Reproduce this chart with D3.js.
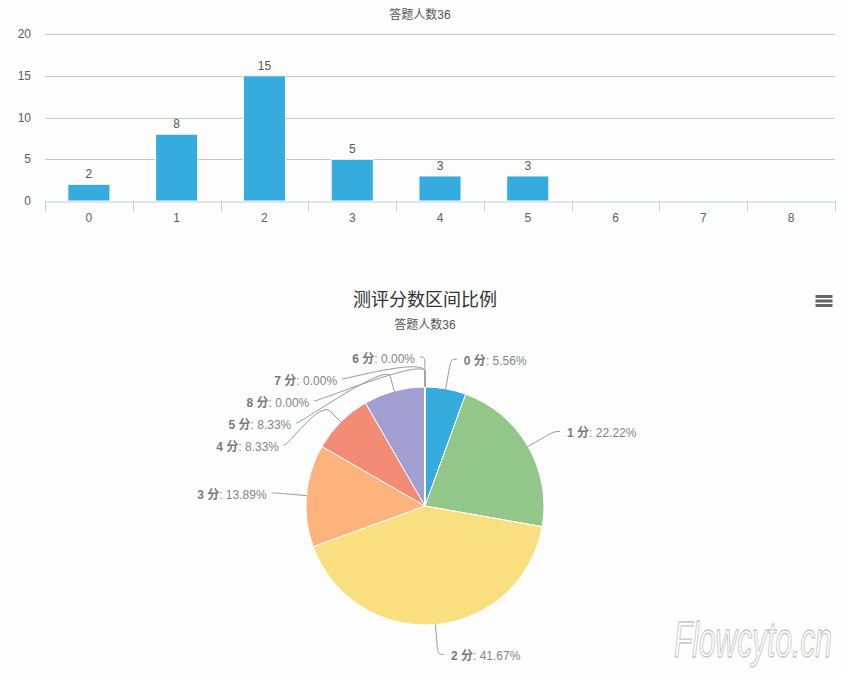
<!DOCTYPE html>
<html>
<head>
<meta charset="utf-8">
<script src="https://cdn.jsdelivr.net/npm/d3@7"></script>
<style>
  html, body { margin: 0; padding: 0; background: #fcfdfc; }
  svg { display: block; }
  text { font-family: "Liberation Sans", Arial, "Noto Sans CJK SC", sans-serif; }
</style>
</head>
<body>
<svg id="chart" width="845" height="674"></svg>
<script>
// ---------------- data ----------------
const barSubtitle = "答题人数36";
const categories = ["0", "1", "2", "3", "4", "5", "6", "7", "8"];
const counts = [2, 8, 15, 5, 3, 3, 0, 0, 0];
const yTicks = [0, 5, 10, 15, 20];

const pieTitle = "测评分数区间比例";
const pieSubtitle = "答题人数36";
const pieNames = ["0 分", "1 分", "2 分", "3 分", "4 分", "5 分", "6 分", "7 分", "8 分"];
const pieValues = [2, 8, 15, 5, 3, 3, 0, 0, 0];
const pieColors = ["#35acdd", "#93c78a", "#fadf80", "#fdb37b", "#f28c75", "#a39ed2", "#a39ed2", "#a39ed2", "#a39ed2"];

// ---------------- setup ----------------
const svg = d3.select("#chart");
svg.append("rect").attr("width", 845).attr("height", 674).attr("fill", "#fcfdfc");

// ---------------- bar chart ----------------
const x = d3.scaleBand().domain(categories).range([45, 835]).padding(0);
const y = d3.scaleLinear().domain([0, 20]).range([201, 34]);
const barFrac = 0.48;

svg.append("text")
  .attr("x", 420).attr("y", 19)
  .attr("text-anchor", "middle")
  .attr("font-size", 12).attr("fill", "#555")
  .text(barSubtitle);

// gridlines
svg.append("g").selectAll("line")
  .data(yTicks.filter(t => t !== 0))
  .join("line")
  .attr("x1", 45).attr("x2", 835)
  .attr("y1", d => Math.round(y(d)) + 0.5).attr("y2", d => Math.round(y(d)) + 0.5)
  .attr("stroke", "#c6c6ca").attr("stroke-width", 1);

// y labels
svg.append("g").selectAll("text")
  .data(yTicks)
  .join("text")
  .attr("x", 31).attr("y", d => y(d))
  .attr("dy", "0.35em")
  .attr("text-anchor", "end")
  .attr("font-size", 12).attr("fill", "#606060")
  .text(d => d);

// bars
svg.append("g").selectAll("rect")
  .data(counts)
  .join("rect")
  .attr("x", (d, i) => x(categories[i]) + x.bandwidth() * (1 - barFrac) / 2)
  .attr("width", x.bandwidth() * barFrac)
  .attr("y", d => y(d))
  .attr("height", d => y(0) - y(d))
  .attr("fill", "#35acdd")
  .attr("stroke", d => d > 0 ? "#ffffff" : "none")
  .attr("stroke-width", 1);

// value labels
svg.append("g").selectAll("text")
  .data(counts)
  .join("text")
  .filter(d => d > 0)
  .attr("x", (d, i) => x(categories[i]) + x.bandwidth() / 2)
  .attr("y", d => y(d) - 6)
  .attr("text-anchor", "middle")
  .attr("font-size", 12).attr("fill", "#555")
  .text(d => d);

// x axis
const xAxis = d3.axisBottom(x).tickSize(0).tickPadding(12);
const gx = svg.append("g").attr("transform", "translate(0,201.5)").call(xAxis);
gx.select(".domain").attr("stroke", "#c0d0e0");
gx.selectAll(".tick text").attr("font-size", 12).attr("fill", "#606060")
  .attr("font-family", "Liberation Sans, Arial, sans-serif");
// boundary tick marks
const boundaries = categories.map(c => x(c)).concat([x.range()[1]]);
svg.append("g").selectAll("line")
  .data(boundaries)
  .join("line")
  .attr("x1", d => Math.round(d) + 0.5).attr("x2", d => Math.round(d) + 0.5)
  .attr("y1", 201).attr("y2", 211)
  .attr("stroke", "#c0d0e0");

// ---------------- pie chart ----------------
const cx = 425, cy = 506, r = 119, dist = 30;
const R = r + dist;

svg.append("text")
  .attr("x", cx).attr("y", 306)
  .attr("text-anchor", "middle")
  .attr("font-size", 18).attr("fill", "#333")
  .text(pieTitle);
svg.append("text")
  .attr("x", cx).attr("y", 329)
  .attr("text-anchor", "middle")
  .attr("font-size", 12).attr("fill", "#555")
  .text(pieSubtitle);

// menu icon
svg.append("g").selectAll("line")
  .data([0, 1, 2])
  .join("line")
  .attr("x1", 815.5).attr("x2", 832.5)
  .attr("y1", d => 296.5 + d * 4.5).attr("y2", d => 296.5 + d * 4.5)
  .attr("stroke", "#666").attr("stroke-width", 3);

const pie = d3.pie().sort(null).value(d => d).startAngle(0).endAngle(2 * Math.PI);
const arcs = pie(pieValues);
const arcGen = d3.arc().innerRadius(0).outerRadius(r);

const gp = svg.append("g").attr("transform", `translate(${cx},${cy})`);
gp.selectAll("path")
  .data(arcs)
  .join("path")
  .attr("d", arcGen)
  .attr("fill", (d, i) => pieColors[i])
  .attr("stroke", "#ffffff").attr("stroke-width", 1);

// label layout
const total = d3.sum(pieValues);
const items = arcs.map((a, i) => {
  const ang = (a.startAngle + a.endAngle) / 2;
  return {
    i, ang,
    left: ang >= Math.PI,
    ideal: cy - R * Math.cos(ang),
    name: pieNames[i],
    pct: (pieValues[i] / total * 100).toFixed(2) + "%"
  };
});
const spacing = 22;
["left", "right"].forEach(side => {
  const group = items.filter(d => (side === "left") === d.left)
    .sort((a, b) => a.ideal - b.ideal || a.i - b.i);
  let prev = cy - R - spacing;
  group.forEach(d => {
    d.y = Math.max(d.ideal, prev + spacing);
    prev = d.y;
  });
});
items.forEach(d => {
  const dy = d.y - cy;
  const dx = Math.sqrt(Math.max(0, R * R - dy * dy));
  d.x = d.left ? cx - dx : cx + dx;
  const s = Math.sin(d.ang), c = Math.cos(d.ang);
  d.ex = cx + r * s; d.ey = cy - r * c;
  d.bx = cx + (r + dist / 2) * s; d.by = cy - (r + dist / 2) * c;
  d.kx = cx + (r + dist) * s; d.ky = cy - (r + dist) * c;
});

svg.append("g").selectAll("path")
  .data(items)
  .join("path")
  .attr("d", d => {
    const sx = d.left ? d.x - 5 : d.x + 6;
    return `M${sx},${d.y} C${d.x},${d.y} ${d.kx},${d.ky} ${d.bx},${d.by} L${d.ex},${d.ey}`;
  })
  .attr("fill", "none").attr("stroke", "#999").attr("stroke-width", 1);

const labels = svg.append("g").selectAll("text")
  .data(items)
  .join("text")
  .attr("x", d => d.left ? d.x - 10 : d.x + 13)
  .attr("y", d => d.y + 1.5)
  .attr("dy", "0.35em")
  .attr("text-anchor", d => d.left ? "end" : "start")
  .attr("font-size", 12)
  .attr("fill", "#858585");
labels.append("tspan").attr("font-weight", "bold").attr("fill", "#7a7a7a").text(d => d.name);
labels.append("tspan").text(d => ": " + d.pct);

// watermark (scaled horizontally to fit, keeping the real box inside the page)
const wm = svg.append("text")
  .attr("font-size", 50)
  .attr("font-style", "italic")
  .attr("font-family", "Liberation Sans Narrow, Liberation Sans, Arial, sans-serif")
  .attr("fill", "#ffffff").attr("stroke", "#c8c8c8").attr("stroke-width", 1)
  .text("Flowcyto.cn");
const wmLen = wm.node().getComputedTextLength() || 160;
const sx = 158 / wmLen;
wm.attr("transform", `translate(674,657) scale(${sx},1)`)
  .attr("stroke-width", 1 / Math.sqrt(sx));
</script>
</body>
</html>
